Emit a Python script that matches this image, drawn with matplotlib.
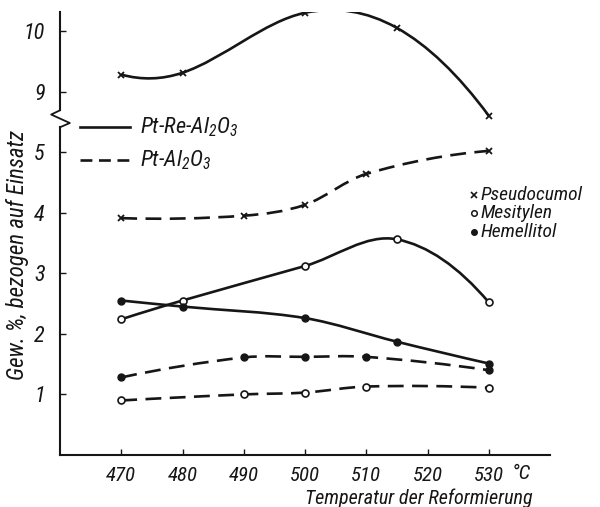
import numpy as np
import matplotlib
matplotlib.use("Agg")
import matplotlib.pyplot as plt
from matplotlib.path import Path
from matplotlib.patches import PathPatch
from matplotlib import font_manager

# ---------------- data ----------------
temps_a = [470, 480, 500, 515, 530]          # Pt-Re-Al2O3 measurement temperatures
temps_b = [470, 490, 500, 510, 530]          # Pt-Al2O3 measurement temperatures

pseudo_re = [9.28, 9.31, 10.30, 10.05, 8.60]
pseudo_pt = [3.91, 3.95, 4.13, 4.64, 5.02]
mesit_re = [2.24, 2.55, 3.12, 3.56, 2.52]
mesit_pt = [0.90, 1.00, 1.03, 1.13, 1.11]
hemel_re = [2.55, 2.45, 2.26, 1.87, 1.51]
hemel_pt = [1.28, 1.61, 1.62, 1.62, 1.40]

x_ticks = [470, 480, 490, 500, 510, 520, 530]
y_tick_vals = [1, 2, 3, 4, 5, 9, 10]
BREAK_OFFSET = 3.0   # values above the axis break are shifted down by this amount

# ---------------- fonts ----------------
avail = {f.name for f in font_manager.fontManager.ttflist}
base = "DejaVu Sans"
for cand in ["Liberation Sans Narrow", "Roboto Condensed", "Liberation Sans", "Roboto"]:
    if cand in avail:
        base = cand
        break
plt.rcParams["font.family"] = [base, "DejaVu Sans"]
plt.rcParams["font.style"] = "italic"
plt.rcParams["mathtext.fontset"] = "custom"
plt.rcParams["mathtext.rm"] = base + ":italic"
plt.rcParams["mathtext.it"] = base + ":italic"
plt.rcParams["mathtext.default"] = "rm"

INK = "#161616"

fig = plt.figure(figsize=(6.0, 5.07), dpi=100)
ax = fig.add_axes([0.1, 0.1026, 0.8167, 0.8734])
ax.set_xlim(460, 540)
ax.set_ylim(0, 7.31)


def smooth_path(xs, ys):
    xs = np.asarray(xs, float)
    ys = np.asarray(ys, float)
    n = len(xs)
    d = np.diff(ys) / np.diff(xs)
    m = np.zeros(n)
    for i in range(1, n - 1):
        m[i] = (ys[i + 1] - ys[i - 1]) / (xs[i + 1] - xs[i - 1])
    m[0] = 2 * d[0] - m[1]
    m[-1] = 2 * d[-1] - m[-2]
    verts = [(xs[0], ys[0])]
    codes = [Path.MOVETO]
    for i in range(n - 1):
        h = (xs[i + 1] - xs[i]) / 3
        verts += [(xs[i] + h, ys[i] + h * m[i]),
                  (xs[i + 1] - h, ys[i + 1] - h * m[i + 1]),
                  (xs[i + 1], ys[i + 1])]
        codes += [Path.CURVE4] * 3
    return Path(verts, codes)


def draw(xs, ys, dashed, marker, offset=0.0):
    yv = [v - offset for v in ys]
    patch = PathPatch(smooth_path(xs, yv), fill=False, lw=1.9, edgecolor=INK,
                      capstyle="butt")
    if dashed:
        patch.set_linestyle((0, (6, 3.2)))
    ax.add_patch(patch)
    if marker == "x":
        ax.plot(xs, yv, ls="none", marker="x", ms=4.5, mew=1.3, color=INK, zorder=3)
    elif marker == "o":
        ax.plot(xs, yv, ls="none", marker="o", ms=5, mew=1.2, mfc="white", mec=INK, zorder=3)
    else:
        ax.plot(xs, yv, ls="none", marker="o", ms=5, mew=1.0, mfc=INK, mec=INK, zorder=3)


draw(temps_a, pseudo_re, False, "x", BREAK_OFFSET)
draw(temps_b, pseudo_pt, True, "x")
draw(temps_a, mesit_re, False, "o")
draw(temps_b, mesit_pt, True, "o")
draw(temps_a, hemel_re, False, ".")
draw(temps_b, hemel_pt, True, ".")

# ---------------- axes styling ----------------
for s in ["top", "right", "left"]:
    ax.spines[s].set_visible(False)
ax.spines["bottom"].set_linewidth(1.5)
ax.spines["bottom"].set_color(INK)

ytr = ax.get_yaxis_transform()
ax.plot([0, 0], [0, 5.41], transform=ytr, color=INK, lw=1.5, clip_on=False)
ax.plot([0, 0], [5.69, 7.31], transform=ytr, color=INK, lw=1.5, clip_on=False)
ax.plot([0, -0.018, 0.020, 0], [5.69, 5.62, 5.48, 5.41], transform=ytr,
        color=INK, lw=1.3, clip_on=False)

ax.set_xticks(x_ticks)
ax.set_xticklabels([str(t) for t in x_ticks])
ypos = [v if v <= 5 else v - BREAK_OFFSET for v in y_tick_vals]
ax.set_yticks(ypos)
ax.set_yticklabels([str(v) for v in y_tick_vals])
ax.tick_params(direction="in", length=4, width=1.0, color=INK, labelcolor=INK)
ax.tick_params(axis="x", pad=8, labelsize=15)
ax.tick_params(axis="y", pad=11, labelsize=16)

ax.text(533.8, -0.30, "°C", fontsize=15, color=INK, ha="left", va="center")

fig.text(0.698, 0.018, "Temperatur der Reformierung", fontsize=14.5, color=INK,
         ha="center", va="center")
fig.text(0.029, 0.497, "Gew. %, bezogen auf Einsatz", fontsize=16.5, color=INK,
         ha="center", va="center", rotation=90)

# catalyst legend
ax.plot([463.3, 471.4], [5.41, 5.41], color=INK, lw=1.9, clip_on=False)
ax.plot([463.3, 471.4], [4.87, 4.87], color=INK, lw=1.9, ls=(0, (4.5, 2.5)), clip_on=False)
ax.text(473.0, 5.41, "Pt-Re-Al$_2$O$_3$", fontsize=16, color=INK, va="center")
ax.text(473.0, 4.87, "Pt-Al$_2$O$_3$", fontsize=16, color=INK, va="center")

# compound legend
lx = 527.6
ax.plot([lx], [4.29], marker="x", ms=4, mew=1.2, color=INK, clip_on=False)
ax.plot([lx], [3.99], marker="o", ms=4, mew=1.1, mfc="white", mec=INK, clip_on=False)
ax.plot([lx], [3.68], marker="o", ms=4, mfc=INK, mec=INK, clip_on=False)
ax.text(lx + 1.1, 4.29, "Pseudocumol", fontsize=14, color=INK, va="center")
ax.text(lx + 1.1, 3.99, "Mesitylen", fontsize=14, color=INK, va="center")
ax.text(lx + 1.1, 3.68, "Hemellitol", fontsize=14, color=INK, va="center")

fig.savefig("out.png", dpi=100, facecolor="white")
